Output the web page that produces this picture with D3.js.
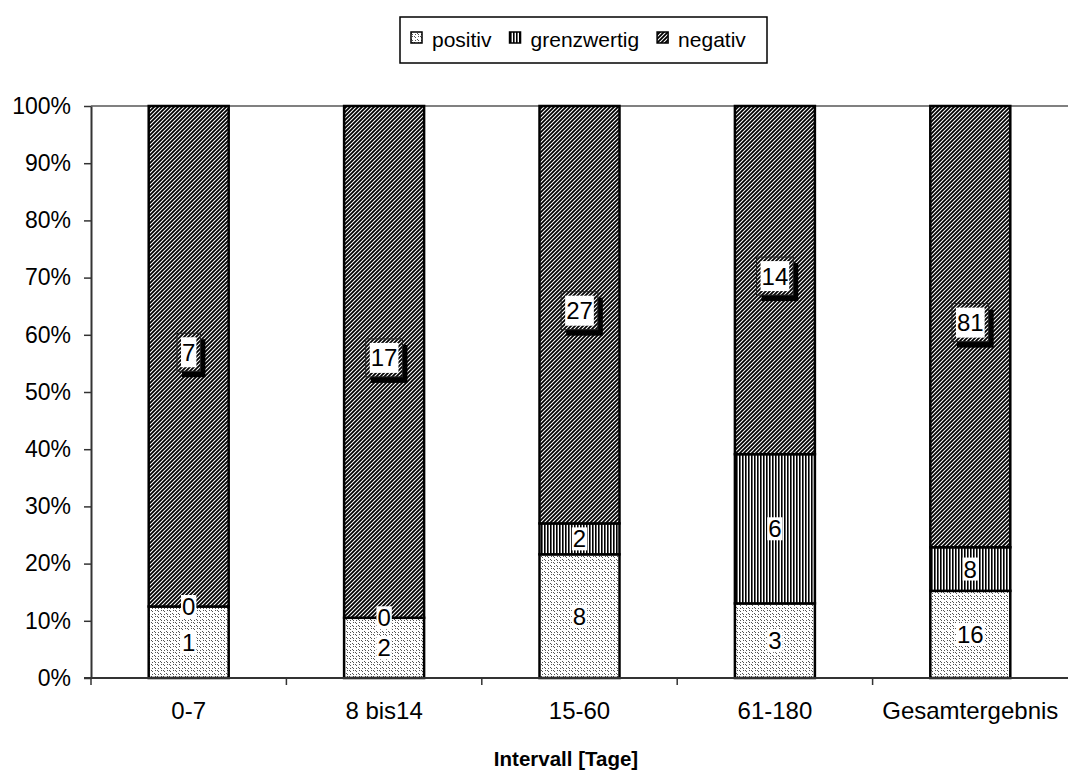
<!DOCTYPE html>
<html>
<head>
<meta charset="utf-8">
<script src="https://cdn.jsdelivr.net/npm/d3@7"></script>
<style>
  body { margin: 0; background: #fff; }
  svg { display: block; font-family: "Liberation Sans", Arial, sans-serif; }
</style>
</head>
<body>
<svg id="chart" width="1068" height="772"></svg>
<script>
const categories = ['0-7', '8 bis14', '15-60', '61-180', 'Gesamtergebnis'];
const seriesNames = ['positiv', 'grenzwertig', 'negativ'];
const positiv = [1, 2, 8, 3, 16];
const grenzwertig = [0, 0, 2, 6, 8];
const negativ = [7, 17, 27, 14, 81];
const yTicks = [0, 0.1, 0.2, 0.3, 0.4, 0.5, 0.6, 0.7, 0.8, 0.9, 1];

const rows = categories.map((c, i) => ({
  cat: c, positiv: positiv[i], grenzwertig: grenzwertig[i], negativ: negativ[i]
}));

const svg = d3.select('#chart');
const margin = { top: 106, right: 0, bottom: 94, left: 91 };
const width = 1068, height = 772;
const innerWidth = width - margin.left - margin.right;
const innerHeight = height - margin.top - margin.bottom;

// fill patterns
const defs = svg.append('defs');
const pPos = defs.append('pattern').attr('id', 'pat-positiv')
  .attr('patternUnits', 'userSpaceOnUse').attr('width', 6).attr('height', 6);
pPos.append('rect').attr('width', 6).attr('height', 6).attr('fill', '#fff');
[[0, 0], [1, 1], [3, 3], [4, 4], [4, 0], [1, 4]].forEach(([px, py]) => {
  pPos.append('rect').attr('x', px).attr('y', py).attr('width', 1).attr('height', 1).attr('fill', '#555');
});
const pGre = defs.append('pattern').attr('id', 'pat-grenzwertig')
  .attr('patternUnits', 'userSpaceOnUse').attr('width', 3).attr('height', 3);
pGre.append('rect').attr('width', 3).attr('height', 3).attr('fill', '#fff');
pGre.append('rect').attr('width', 1.6).attr('height', 3).attr('fill', '#000');
const pNeg = defs.append('pattern').attr('id', 'pat-negativ')
  .attr('patternUnits', 'userSpaceOnUse').attr('width', 4).attr('height', 4);
pNeg.append('rect').attr('width', 4).attr('height', 4).attr('fill', '#fff');
pNeg.append('path').attr('d', 'M-1,1 L1,-1 M0,4 L4,0 M3,5 L5,3')
  .attr('stroke', '#000').attr('stroke-width', 1.8);

const fills = { positiv: 'url(#pat-positiv)', grenzwertig: 'url(#pat-grenzwertig)', negativ: 'url(#pat-negativ)' };

const x = d3.scaleBand().domain(categories).range([0, innerWidth]).paddingInner(0).paddingOuter(0);
const y = d3.scaleLinear().domain([0, 1]).range([innerHeight, 0]);
const barWidth = 80;

const stack = d3.stack().keys(seriesNames).offset(d3.stackOffsetExpand);
const layers = stack(rows);

const g = svg.append('g').attr('transform', `translate(${margin.left},${margin.top})`);

// top border of plot area
g.append('line').attr('x1', 0).attr('x2', innerWidth).attr('y1', 0).attr('y2', 0)
  .attr('stroke', '#808080').attr('stroke-width', 2);

// bars
layers.forEach(layer => {
  g.append('g').selectAll('rect').data(layer).enter().append('rect')
    .attr('x', d => x(d.data.cat) + x.bandwidth() / 2 - barWidth / 2)
    .attr('y', d => y(d[1]))
    .attr('width', barWidth)
    .attr('height', d => y(d[0]) - y(d[1]))
    .attr('fill', fills[layer.key])
    .attr('stroke', '#000')
    .attr('stroke-width', 2.5);
});

// axes
const yAxis = g.append('g').call(d3.axisLeft(y).tickValues(yTicks).tickFormat(d3.format('.0%')).tickSizeInner(7).tickSizeOuter(0).tickPadding(13));
yAxis.select('.domain').attr('stroke', '#333').attr('stroke-width', 2);
yAxis.selectAll('.tick line').attr('stroke', '#333').attr('stroke-width', 1.5);
yAxis.selectAll('text').attr('font-size', 23).attr('fill', '#000')
  .attr('font-family', '"Liberation Sans", Arial, sans-serif');

const xAxis = g.append('g').attr('transform', `translate(0,${innerHeight})`)
  .call(d3.axisBottom(x).tickSize(0).tickPadding(24));
xAxis.select('.domain').remove();
xAxis.selectAll('text').attr('font-size', 24).attr('fill', '#000')
  .attr('font-family', '"Liberation Sans", Arial, sans-serif');
g.append('line').attr('x1', -7).attr('x2', innerWidth).attr('y1', innerHeight).attr('y2', innerHeight)
  .attr('stroke', '#333').attr('stroke-width', 2);
g.append('g').selectAll('line').data(categories).enter().append('line')
  .attr('x1', d => x(d)).attr('x2', d => x(d))
  .attr('y1', innerHeight).attr('y2', innerHeight + 7)
  .attr('stroke', '#333').attr('stroke-width', 1.5);

// axis title
svg.append('text').attr('x', 566).attr('y', 766)
  .attr('text-anchor', 'middle').attr('font-size', 20.5).attr('font-weight', 'bold')
  .text('Intervall [Tage]');

// value labels
const labels = g.append('g');
layers.forEach(layer => {
  layer.forEach(d => {
    const cx = x(d.data.cat) + x.bandwidth() / 2;
    const cy = (y(d[0]) + y(d[1])) / 2;
    const value = d.data[layer.key];
    const lg = labels.append('g');
    const by = layer.key === 'negativ' ? cy - 4 : cy;
    const t = lg.append('text').attr('font-size', 24).attr('x', cx).attr('y', by)
      .attr('text-anchor', 'middle').attr('dominant-baseline', 'central').text(value);
    const bb = t.node().getBBox();
    if (layer.key === 'negativ') {
      const iw = bb.width + 2, ih = Math.max(30, bb.height + 2), ow = iw + 8, oh = ih + 8;
      lg.insert('rect', 'text').attr('x', cx - ow / 2 + 5).attr('y', by - oh / 2 + 6)
        .attr('width', ow).attr('height', oh).attr('fill', '#000');
      lg.insert('rect', 'text').attr('x', cx - ow / 2).attr('y', by - oh / 2)
        .attr('width', ow).attr('height', oh).attr('fill', fills.negativ)
        .attr('stroke', '#222').attr('stroke-width', 1);
      lg.insert('rect', 'text').attr('x', cx - iw / 2).attr('y', by - ih / 2)
        .attr('width', iw).attr('height', ih).attr('fill', '#fff');
    } else {
      lg.insert('rect', 'text').attr('x', bb.x - 1).attr('y', bb.y + 2)
        .attr('width', bb.width + 2).attr('height', bb.height - 4).attr('fill', '#fff');
    }
  });
});

// legend
const legend = svg.append('g');
legend.append('rect').attr('x', 400).attr('y', 17).attr('width', 367).attr('height', 46)
  .attr('fill', '#fff').attr('stroke', '#000').attr('stroke-width', 1.5);
let lx = 411;
seriesNames.forEach(name => {
  legend.append('rect').attr('x', lx).attr('y', 32).attr('width', 11).attr('height', 11)
    .attr('fill', fills[name]).attr('stroke', '#000').attr('stroke-width', 1.5);
  const t = legend.append('text').attr('x', lx + 21).attr('y', 47).attr('font-size', 21).text(name);
  lx += 21 + t.node().getComputedTextLength() + 18;
});
</script>
</body>
</html>
